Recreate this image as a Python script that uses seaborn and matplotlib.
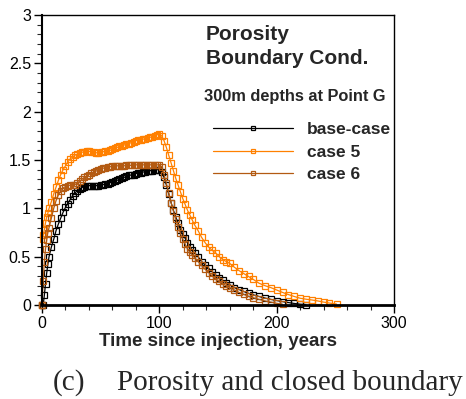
import pandas as pd
import numpy as np
import matplotlib
matplotlib.use('Agg')
import matplotlib.pyplot as plt
import seaborn as sns
from matplotlib.ticker import MultipleLocator

# Values (time in years, quantity on the y axis)
base_years = [0, 1, 2, 3, 4, 5, 6,
              8, 10, 12, 14, 16, 18, 20, 22, 24, 26, 28, 30, 32, 34, 36, 38, 40, 42, 44, 46, 48, 50,
              52, 54, 56, 58, 60, 62, 64, 66, 68, 70, 72, 74, 76, 78, 80, 82, 84, 86, 88, 90, 92, 94,
              96, 98, 100,
              102, 104, 106, 108, 110, 112, 114, 116, 118, 120, 122, 124, 126, 128, 130,
              133, 136, 139, 142, 145, 148, 151, 154, 157, 160,
              164, 168, 172, 176, 180,
              185, 190, 195, 200, 205, 210, 215, 220, 225]
base_vals = [0.0, 0.0, 0.10, 0.22, 0.33, 0.42, 0.50,
             0.60, 0.68, 0.77, 0.84, 0.90, 0.96, 1.01, 1.05, 1.09, 1.13, 1.16, 1.18, 1.20, 1.215,
             1.225, 1.23, 1.235, 1.235, 1.235, 1.235, 1.235, 1.24, 1.245, 1.25, 1.255, 1.265, 1.275,
             1.285, 1.29, 1.30, 1.31, 1.32, 1.33, 1.34, 1.345, 1.35, 1.36, 1.365, 1.37, 1.375, 1.38,
             1.385, 1.39, 1.39, 1.395, 1.40, 1.40,
             1.38, 1.32, 1.24, 1.15, 1.06, 0.98, 0.91, 0.85, 0.78, 0.73, 0.69, 0.64, 0.60, 0.57, 0.54,
             0.50, 0.45, 0.415, 0.38, 0.345, 0.31, 0.28, 0.255, 0.23, 0.21,
             0.18, 0.16, 0.14, 0.12, 0.105,
             0.088, 0.072, 0.058, 0.046, 0.035, 0.025, 0.016, 0.009, 0.004]

case5_years = [0, 0.5, 1, 2, 3, 4, 5, 6,
               8, 10, 12, 14, 16, 18, 20, 22, 24, 26, 28, 30, 32, 34, 36, 38, 40, 42, 44, 46, 48, 50,
               52, 54, 56, 58, 60, 62, 64, 66, 68, 70, 72, 74, 76, 78, 80, 82, 84, 86, 88, 90, 92, 94,
               96, 98, 100,
               102, 104, 106, 108, 110, 112, 114, 116, 118, 120, 122, 124, 126, 128, 130,
               133, 136, 139, 142, 145, 148, 151, 154, 157, 160,
               164, 168, 172, 176, 180,
               185, 190, 195, 200, 205, 210, 215, 220, 225, 230, 235, 240, 245, 251]
case5_vals = [0.0, 0.68, 0.72, 0.78, 0.85, 0.91, 0.95, 1.00,
              1.07, 1.15, 1.22, 1.29, 1.35, 1.40, 1.44, 1.48, 1.51, 1.53, 1.55, 1.56, 1.57, 1.58,
              1.585, 1.59, 1.59, 1.585, 1.58, 1.575, 1.575, 1.58, 1.585, 1.59, 1.595, 1.60, 1.61,
              1.62, 1.63, 1.64, 1.645, 1.655, 1.665, 1.67, 1.68, 1.69, 1.70, 1.705, 1.71, 1.715,
              1.72, 1.73, 1.735, 1.74, 1.75, 1.76, 1.77,
              1.75, 1.70, 1.63, 1.55, 1.47, 1.39, 1.31, 1.24, 1.17, 1.10, 1.04, 0.98, 0.93, 0.88, 0.83,
              0.77, 0.70, 0.645, 0.60, 0.565, 0.54, 0.50, 0.47, 0.45, 0.43,
              0.39, 0.355, 0.325, 0.295, 0.265,
              0.225, 0.20, 0.18, 0.155, 0.13, 0.108, 0.088, 0.07, 0.06, 0.052, 0.042, 0.03, 0.02, 0.01]

case6_years = [0, 1, 2, 3, 4, 5, 6,
               8, 10, 12, 14, 16, 18, 20, 22, 24, 26, 28, 30, 32, 34, 36, 38, 40, 42, 44, 46, 48, 50,
               52, 54, 56, 58, 60, 62, 64, 66, 68, 70, 72, 74, 76, 78, 80, 82, 84, 86, 88, 90, 92, 94,
               96, 98, 100,
               102, 104, 106, 108, 110, 112, 114, 116, 118, 120, 122, 124, 126, 128, 130,
               133, 136, 139, 142, 145, 148, 151, 154, 157, 160,
               164, 168, 172, 176, 180,
               185, 190, 195, 200, 205]
case6_vals = [0.0, 0.25, 0.45, 0.58, 0.67, 0.75, 0.80,
              0.90, 1.00, 1.08, 1.14, 1.18, 1.21, 1.225, 1.235, 1.24, 1.24, 1.245, 1.26, 1.28, 1.30,
              1.32, 1.335, 1.35, 1.365, 1.375, 1.385, 1.395, 1.405, 1.415, 1.42, 1.425, 1.43, 1.435,
              1.435, 1.44, 1.44, 1.44, 1.44, 1.445, 1.445, 1.445, 1.45, 1.45, 1.45, 1.45, 1.45, 1.45,
              1.45, 1.45, 1.45, 1.45, 1.45, 1.45,
              1.43, 1.35, 1.26, 1.16, 1.06, 0.97, 0.89, 0.81, 0.74, 0.68, 0.63, 0.58, 0.55, 0.52, 0.49,
              0.45, 0.41, 0.37, 0.335, 0.30, 0.27, 0.245, 0.22, 0.20, 0.18,
              0.155, 0.13, 0.11, 0.09, 0.075,
              0.058, 0.042, 0.03, 0.018, 0.008]

series_names = ['base-case', 'case 5', 'case 6']
series_colors = ['#000000', '#FF8000', '#B35A12']

sns.set_style('white')
plt.rcParams['font.family'] = ['Liberation Sans', 'DejaVu Sans']

fig = plt.figure(figsize=(4.66, 3.99), dpi=100)
W, H = 466, 399
ax = fig.add_axes([42 / W, 1 - 305 / H, (394 - 42) / W, (305 - 15) / H])

all_series = [(base_years, base_vals), (case5_years, case5_vals), (case6_years, case6_vals)]
for (yrs, vals), name, col in zip(all_series, series_names, series_colors):
    df = pd.DataFrame({'t': yrs, 'v': vals})
    sns.lineplot(data=df, x='t', y='v', ax=ax, color=col, linewidth=0.9,
                 marker='s', markersize=3.8, markerfacecolor='none',
                 markeredgecolor=col, markeredgewidth=0.9,
                 label=name, sort=False, estimator=None, clip_on=False)

ax.set_xlim(0, 300)
ax.set_ylim(0, 3)
ax.xaxis.set_major_locator(MultipleLocator(100))
ax.xaxis.set_minor_locator(MultipleLocator(20))
ax.yaxis.set_major_locator(MultipleLocator(0.5))
ax.yaxis.set_minor_locator(MultipleLocator(0.1))
ax.set_yticks([0, 0.5, 1, 1.5, 2, 2.5, 3])
ax.set_yticklabels(['0', '0.5', '1', '1.5', '2', '2.5', '3'])
ax.tick_params(which='major', direction='out', length=6, width=1, labelsize=11.5, pad=2,
               bottom=True, left=True, colors='black')
ax.tick_params(which='minor', direction='out', length=3.5, width=0.8, bottom=True, left=True)
ax.set_ylabel('')
ax.set_xlabel('Time since injection, years', fontsize=13.5, fontweight='bold', labelpad=1)

for side in ['top', 'right']:
    ax.spines[side].set_linewidth(1.0)
ax.spines['left'].set_linewidth(1.5)
ax.spines['bottom'].set_linewidth(2.0)
for s in ax.spines.values():
    s.set_color('black')

# legend rows sit ~22 px apart in the original, small marker in the middle
leg = ax.legend(loc='upper left', bbox_to_anchor=(213 / W, 1 - 122 / H),
                bbox_transform=fig.transFigure, frameon=False, handlelength=4.6,
                handletextpad=0.8, labelspacing=0.42, borderpad=0, borderaxespad=0,
                numpoints=1, markerscale=0.75, prop={'size': 12.5, 'weight': 'bold'})

fig.text(206 / W, 1 - 40 / H, 'Porosity', fontsize=15, fontweight='bold', va='baseline')
fig.text(206 / W, 1 - 64 / H, 'Boundary Cond.', fontsize=15, fontweight='bold', va='baseline')
fig.text(204 / W, 1 - 100.5 / H, '300m depths at Point G', fontsize=11.8, fontweight='bold',
         va='baseline')

fig.text(53 / W, 1 - 390 / H, '(c)', fontsize=21, family='Liberation Serif', va='baseline')
fig.text(116.7 / W, 1 - 390 / H, 'Porosity and closed boundary', fontsize=21,
         family='Liberation Serif', va='baseline')

fig.savefig('out.png', dpi=100)
